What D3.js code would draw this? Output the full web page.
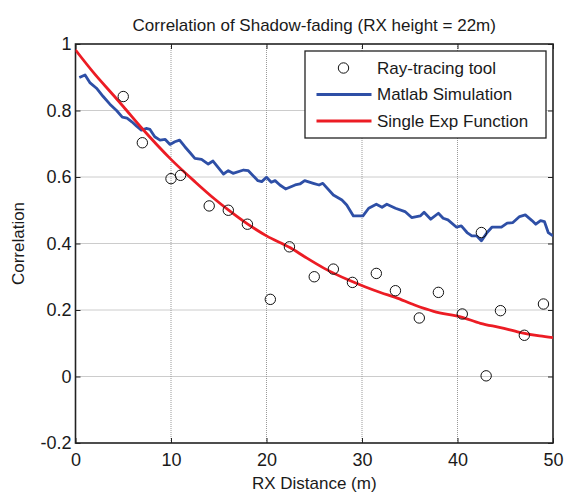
<!DOCTYPE html>
<html><head><meta charset="utf-8">
<script src="https://cdn.jsdelivr.net/npm/d3@7"></script>
<style>
html,body{margin:0;padding:0;background:#fff;}
svg{display:block;font-family:"Liberation Sans",Arial,Helvetica,sans-serif;}
</style></head>
<body>
<svg id="chart" width="564" height="493"></svg>
<script>
// ---- data ----
const rayX = [5, 7, 10, 11, 14, 16, 18, 20.4, 22.4, 25, 27, 29, 31.5, 33.5, 36, 38, 40.5, 42.5, 43, 44.5, 47, 49];
const rayY = [0.842, 0.703, 0.595, 0.605, 0.513, 0.500, 0.458, 0.232, 0.390, 0.300, 0.323, 0.283, 0.310, 0.258, 0.176, 0.253, 0.188, 0.433, 0.002, 0.198, 0.124, 0.218];

const matX = [0.4, 1.0, 1.5, 2.2, 2.9, 3.6, 4.3, 4.9, 5.4, 5.9, 6.4, 6.9, 7.4, 7.8, 8.3, 8.85, 9.4, 9.9, 10.4, 10.9, 11.45, 12.0, 12.5, 13.2, 13.9, 14.4, 15.5, 16.0, 16.5, 17.6, 18.1, 19.1, 19.5, 20.0, 20.5, 20.9, 21.4, 22.0, 23.0, 23.5, 24.0, 24.9, 25.5, 25.9, 27.0, 27.9, 28.4, 29.1, 30.1, 30.7, 31.5, 32.1, 32.6, 33.5, 34.5, 35.2, 36.1, 36.5, 37.2, 38.0, 38.5, 39.0, 39.9, 40.4, 41.0, 41.5, 42.0, 42.5, 43.1, 43.6, 44.6, 45.2, 45.8, 46.5, 47.1, 47.8, 48.2, 48.7, 49.1, 49.5, 50.0];
const matY = [0.899, 0.907, 0.884, 0.867, 0.842, 0.819, 0.800, 0.780, 0.777, 0.766, 0.753, 0.741, 0.746, 0.743, 0.721, 0.711, 0.713, 0.698, 0.706, 0.711, 0.691, 0.673, 0.656, 0.653, 0.639, 0.648, 0.609, 0.619, 0.611, 0.621, 0.619, 0.589, 0.586, 0.599, 0.584, 0.589, 0.576, 0.564, 0.576, 0.579, 0.589, 0.581, 0.576, 0.581, 0.546, 0.531, 0.516, 0.483, 0.483, 0.506, 0.518, 0.509, 0.518, 0.506, 0.496, 0.478, 0.483, 0.494, 0.473, 0.491, 0.476, 0.471, 0.449, 0.453, 0.433, 0.423, 0.423, 0.408, 0.433, 0.449, 0.449, 0.461, 0.463, 0.481, 0.486, 0.469, 0.458, 0.469, 0.466, 0.433, 0.423];

const expX = [0, 2, 4, 5, 7, 10, 12.5, 14.6, 16, 18, 20, 22.5, 24, 26, 28.6, 30.3, 32, 33.5, 35.5, 37.5, 40.5, 42.4, 44.5, 46.5, 48.6, 50];
const expY = [0.982, 0.910, 0.845, 0.812, 0.745, 0.653, 0.586, 0.533, 0.501, 0.459, 0.423, 0.387, 0.360, 0.326, 0.290, 0.270, 0.252, 0.238, 0.215, 0.196, 0.178, 0.160, 0.147, 0.133, 0.122, 0.117];

const xTicks = [0, 10, 20, 30, 40, 50];
const yTicks = [-0.2, 0, 0.2, 0.4, 0.6, 0.8, 1];
const yTickLabels = ["-0.2", "0", "0.2", "0.4", "0.6", "0.8", "1"];

const titleText = "Correlation of Shadow-fading (RX height = 22m)";
const xLabel = "RX Distance (m)";
const yLabel = "Correlation";
const legendLabels = ["Ray-tracing tool", "Matlab Simulation", "Single Exp Function"];

// ---- layout ----
const L = 75.5, R = 553, T = 44, B = 443;
const FS = 17, TFS = 18;
const blue = "#2e4fa6", red = "#ec1c24";

const svg = d3.select("#chart");
const x = d3.scaleLinear().domain([0, 50]).range([L, R]);
const y = d3.scaleLinear().domain([-0.2, 1]).range([B, T]);

// grid
const grid = svg.append("g").attr("stroke", "#999").attr("stroke-width", 1).attr("stroke-dasharray", "1,1");
grid.selectAll(".gx").data(xTicks.slice(1, -1)).join("line")
  .attr("x1", d => x(d)).attr("x2", d => x(d)).attr("y1", T).attr("y2", B);
grid.selectAll(".gy").data(yTicks.slice(1, -1)).join("line")
  .attr("x1", L).attr("x2", R).attr("y1", d => y(d)).attr("y2", d => y(d));

// axes (inside ticks)
const fmtY = d => yTickLabels[yTicks.indexOf(d)];
const axB = svg.append("g").attr("transform", `translate(0,${B})`)
  .call(d3.axisBottom(x).tickValues(xTicks).tickSize(-5).tickPadding(10).tickFormat(d3.format("d")));
const axT = svg.append("g").attr("transform", `translate(0,${T})`)
  .call(d3.axisTop(x).tickValues(xTicks).tickSize(-5).tickFormat(""));
const axL = svg.append("g").attr("transform", `translate(${L},0)`)
  .call(d3.axisLeft(y).tickValues(yTicks).tickSize(-5).tickPadding(4).tickFormat(fmtY));
const axRt = svg.append("g").attr("transform", `translate(${R},0)`)
  .call(d3.axisRight(y).tickValues(yTicks).tickSize(-5).tickFormat(""));
[axB, axT, axL, axRt].forEach(a => {
  a.select(".domain").remove();
  a.selectAll(".tick line").attr("stroke", "#222").attr("stroke-width", 1);
  a.selectAll(".tick text").attr("fill", "#1a1a1a").style("font-size", TFS + "px").style("font-family", "Liberation Sans, Arial, sans-serif");
});
axB.selectAll(".tick text").attr("dy", "0.71em");

// frame
svg.append("rect").attr("x", L).attr("y", T).attr("width", R - L).attr("height", B - T)
  .attr("fill", "none").attr("stroke", "#222").attr("stroke-width", 1.6);

// plot clip
svg.append("clipPath").attr("id", "clip").append("rect")
  .attr("x", L).attr("y", T).attr("width", R - L).attr("height", B - T);
const plot = svg.append("g").attr("clip-path", "url(#clip)");

const line = d3.line().x(d => x(d[0])).y(d => y(d[1]));
plot.append("path").datum(matX.map((v, i) => [v, matY[i]]))
  .attr("d", line).attr("fill", "none").attr("stroke", blue).attr("stroke-width", 2.8).attr("stroke-linejoin", "round");
plot.append("path").datum(expX.map((v, i) => [v, expY[i]]))
  .attr("d", line.curve(d3.curveMonotoneX)).attr("fill", "none").attr("stroke", red).attr("stroke-width", 2.8);
plot.selectAll(".ray").data(rayX.map((v, i) => [v, rayY[i]])).join("circle")
  .attr("cx", d => x(d[0])).attr("cy", d => y(d[1])).attr("r", 5.2)
  .attr("fill", "none").attr("stroke", "#111").attr("stroke-width", 1);

// legend
const lg = svg.append("g");
lg.append("rect").attr("x", 305).attr("y", 51).attr("width", 241).attr("height", 87)
  .attr("fill", "#fff").attr("stroke", "#222").attr("stroke-width", 1.3);
const rowsY = [68, 94.5, 121];
lg.append("circle").attr("cx", 343.5).attr("cy", rowsY[0]).attr("r", 5.2).attr("fill", "none").attr("stroke", "#111");
lg.append("line").attr("x1", 316.5).attr("x2", 371.5).attr("y1", rowsY[1]).attr("y2", rowsY[1]).attr("stroke", blue).attr("stroke-width", 2.8);
lg.append("line").attr("x1", 316.5).attr("x2", 371.5).attr("y1", rowsY[2]).attr("y2", rowsY[2]).attr("stroke", red).attr("stroke-width", 2.8);
lg.selectAll(".lt").data(legendLabels).join("text")
  .attr("x", 377).attr("y", (d, i) => rowsY[i]).attr("dy", "0.35em")
  .attr("fill", "#1a1a1a").style("font-size", FS + "px").text(d => d);

// labels
svg.append("text").attr("x", (L + R) / 2).attr("y", 31).attr("text-anchor", "middle")
  .attr("fill", "#1a1a1a").style("font-size", FS + "px").text(titleText);
svg.append("text").attr("x", (L + R) / 2).attr("y", 489).attr("text-anchor", "middle")
  .attr("fill", "#1a1a1a").style("font-size", FS + "px").text(xLabel);
svg.append("text").attr("transform", `translate(24,${(T + B) / 2}) rotate(-90)`).attr("text-anchor", "middle")
  .attr("fill", "#1a1a1a").style("font-size", FS + "px").text(yLabel);
</script>
</body></html>
